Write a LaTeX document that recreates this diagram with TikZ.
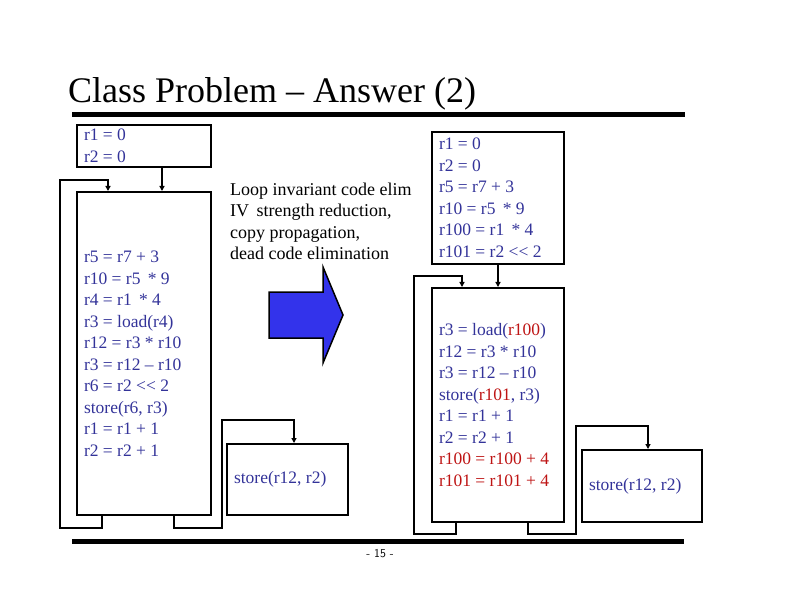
\documentclass[tikz,border=0pt]{standalone}
\usepackage{fontspec}
\setmainfont{Liberation Serif}
\usetikzlibrary{arrows.meta}
\definecolor{codeblue}{RGB}{51,51,153}
\definecolor{codered}{RGB}{190,20,20}
\definecolor{arrowblue}{RGB}{51,51,235}
\newcommand{\codesize}{\fontsize{17.5bp}{21.5bp}\selectfont\spaceskip=0.25em plus 0.05em\relax}
\begin{document}
\begin{tikzpicture}[x=1bp,y=-1bp,
    block/.style={draw,line width=2bp,inner xsep=7bp,inner ysep=0pt,align=flush left,
      font=\codesize,text=codeblue},
    flow/.style={line width=2bp,-{Triangle[length=5bp,width=5bp]}},
    rule/.style={line width=5bp}]
    \useasboundingbox (0,0) rectangle (792,612);

    % Title and rules
    \node[anchor=base west,inner sep=0pt,font=\fontsize{36bp}{40bp}\selectfont] (title) at (68,103) {Class Problem -- Answer (2)};
    \draw[rule] (72,115) -- (685,115);
    \draw[rule] (72,541) -- (684,541);
    \node[font=\sffamily\fontsize{12bp}{14bp}\selectfont] (page) at (380,554) {- 15 -};

    % Before: blocks
    \node[block,minimum width=134bp,minimum height=42bp,text width=120bp] (init1) at (144,146)
      {r1 = 0\\r2 = 0};
    \node[block,minimum width=134bp,minimum height=323bp,text width=120bp] (loop1) at (144,353.5)
      {r5 = r7 + 3\\r10 = r5 \,* 9\\r4 = r1 \,* 4\\r3 = load(r4)\\r12 = r3 * r10\\r3 = r12 -- r10\\r6 = r2 {<}{<} 2\\store(r6, r3)\\r1 = r1 + 1\\r2 = r2 + 1};
    \node[block,minimum width=121bp,minimum height=71bp,text width=107bp] (exit1) at (287.5,479.5)
      {store(r12, r2)};

    % Before: edges
    \draw[flow] ([xshift=18bp]init1.south) -- ([xshift=18bp]loop1.north);
    \draw[flow] ([xshift=-42bp]loop1.south) -- ++(0,12) -| (60,180) -| ([xshift=-36bp]loop1.north);
    \draw[flow] ([xshift=30bp]loop1.south) -- ++(0,12) -| (222,420) -| ([xshift=6.5bp]exit1.north);

    % Transformation
    \node[anchor=west,inner xsep=0pt,align=left,font=\fontsize{18bp}{21.5bp}\selectfont] (opts) at (230,221.5)
      {Loop invariant code elim\\IV \,strength reduction,\\copy propagation,\\dead code elimination};
    \draw[line width=1.5bp,fill=arrowblue] (269,292) -- (323,292) -- (323,267) -- (343,315)
      -- (323,363) -- (323,338) -- (269,338) -- cycle;

    % After: blocks
    \node[block,minimum width=132bp,minimum height=132bp,text width=118bp] (init2) at (498,198)
      {r1 = 0\\r2 = 0\\r5 = r7 + 3\\r10 = r5 \,* 9\\r100 = r1 \,* 4\\r101 = r2 {<}{<} 2};
    \node[block,minimum width=132bp,minimum height=234bp,text width=118bp] (loop2) at (498,405)
      {r3 = load(\textcolor{codered}{r100})\\r12 = r3 * r10\\r3 = r12 -- r10\\store(\textcolor{codered}{r101}, r3)\\r1 = r1 + 1\\r2 = r2 + 1\\
       \textcolor{codered}{r100 = r100 + 4}\\\textcolor{codered}{r101 = r101 + 4}};
    \node[block,minimum width=120bp,minimum height=72bp,text width=106bp] (exit2) at (642,486)
      {store(r12, r2)};

    % After: edges
    \draw[flow] (init2) -- (loop2);
    \draw[flow] ([xshift=-42bp]loop2.south) -- ++(0,11) -| (414,276) -| ([xshift=-36bp]loop2.north);
    \draw[flow] ([xshift=30bp]loop2.south) -- ++(0,11) -| (576,426) -| ([xshift=6bp]exit2.north);
  \end{tikzpicture}
\end{document}
